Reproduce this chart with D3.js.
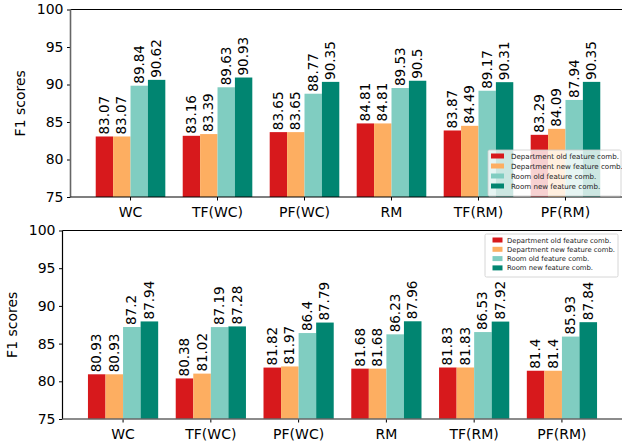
<!DOCTYPE html>
<html>
<head>
<meta charset="utf-8">
<style>
  body { margin: 0; background: #fff; }
  svg { display: block; font-family: "DejaVu Sans", sans-serif; }
</style>
</head>
<body>
<svg width="622" height="444"></svg>
<script src="https://d3js.org/d3.v7.min.js"></script>
<script>
var categories = ['WC', 'TF(WC)', 'PF(WC)', 'RM', 'TF(RM)', 'PF(RM)'];
var seriesNames = ['Department old feature comb.', 'Department new feature comb.', 'Room old feature comb.', 'Room new feature comb.'];
var colors = ['#d7191c', '#fdae61', '#80cdc1', '#018571'];
var yTicks = [75, 80, 85, 90, 95, 100];

// top panel
var topDeptOld = [83.07, 83.16, 83.65, 84.81, 83.87, 83.29];
var topDeptNew = [83.07, 83.39, 83.65, 84.81, 84.49, 84.09];
var topRoomOld = [89.84, 89.63, 88.77, 89.53, 89.17, 87.94];
var topRoomNew = [90.62, 90.93, 90.35, 90.5, 90.31, 90.35];

// bottom panel
var botDeptOld = [80.93, 80.38, 81.82, 81.68, 81.83, 81.4];
var botDeptNew = [80.93, 81.02, 81.97, 81.68, 81.83, 81.4];
var botRoomOld = [87.2, 87.19, 86.4, 86.23, 86.53, 85.93];
var botRoomNew = [87.94, 87.28, 87.79, 87.96, 87.92, 87.84];

var svg = d3.select('svg');

function panel(cfg) {
  var series = [cfg.a, cfg.b, cfg.c, cfg.d];
  var x0 = d3.scaleBand().domain(categories).range([cfg.left, cfg.right]).paddingInner(0).paddingOuter(0.19);
  var step = x0.step();
  var x1 = d3.scaleBand().domain(d3.range(4)).range([0, step * 0.8]);
  var y = d3.scaleLinear().domain([75, 100]).range([cfg.bottom, cfg.top]);
  var g = svg.append('g');

  var rows = categories.map(function (c, i) {
    return { cat: c, vals: series.map(function (s) { return s[i]; }) };
  });

  var grp = g.selectAll('g.cat').data(rows).enter().append('g')
    .attr('transform', function (d) { return 'translate(' + (x0(d.cat) + step * 0.1) + ',0)'; });

  grp.selectAll('rect').data(function (d) { return d.vals; }).enter().append('rect')
    .attr('x', function (d, i) { return x1(i); })
    .attr('y', function (d) { return y(d); })
    .attr('width', x1.bandwidth())
    .attr('height', function (d) { return y(75) - y(d); })
    .attr('fill', function (d, i) { return colors[i]; });

  grp.selectAll('text').data(function (d) { return d.vals; }).enter().append('text')
    .attr('transform', function (d, i) {
      return 'translate(' + (x1(i) + x1.bandwidth() / 2 + 4.5) + ',' + (y(d) - 2) + ') rotate(-90)';
    })
    .attr('font-size', 13.5)
    .attr('fill', '#000')
    .text(function (d) { return d; });

  // axes
  var yAxis = d3.axisLeft(y).tickValues(yTicks).tickSize(3.5).tickPadding(3.5);
  var ya = g.append('g').attr('transform', 'translate(' + cfg.left + ',0)').call(yAxis);
  ya.select('.domain').remove();
  ya.selectAll('text').attr('font-size', 14).attr('font-family', 'DejaVu Sans').attr('fill', '#000');

  var xAxis = d3.axisBottom(x0).tickSize(3.5).tickPadding(3.5);
  var xa = g.append('g').attr('transform', 'translate(0,' + cfg.bottom + ')').call(xAxis);
  xa.select('.domain').remove();
  xa.selectAll('text').attr('font-size', 14).attr('font-family', 'DejaVu Sans').attr('fill', '#000').attr('dy', '0.9em');

  // spines
  g.append('line').attr('x1', cfg.left).attr('x2', cfg.right).attr('y1', cfg.top).attr('y2', cfg.top)
    .attr('stroke', '#000').attr('stroke-width', 1.2);
  g.append('line').attr('x1', cfg.left).attr('x2', cfg.left).attr('y1', cfg.top).attr('y2', cfg.bottom)
    .attr('stroke', cfg.leftColor).attr('stroke-width', cfg.leftWidth);
  g.append('line').attr('x1', cfg.left).attr('x2', cfg.right).attr('y1', cfg.bottom).attr('y2', cfg.bottom)
    .attr('stroke', cfg.bottomColor).attr('stroke-width', cfg.bottomWidth);

  g.append('text')
    .attr('transform', 'translate(' + cfg.labelX + ',' + ((cfg.top + cfg.bottom) / 2) + ') rotate(-90)')
    .attr('text-anchor', 'middle')
    .attr('font-size', 14)
    .text('F1 scores');

  // legend
  var lg = g.append('g').attr('transform', 'translate(' + cfg.legX + ',' + cfg.legY + ')');
  lg.append('rect').attr('x', 0).attr('y', 0).attr('width', cfg.legW).attr('height', cfg.legH)
    .attr('rx', 1.5).attr('fill', 'rgba(255,255,255,0.8)').attr('stroke', '#ccc').attr('stroke-width', 0.8);
  seriesNames.forEach(function (n, i) {
    var yy = cfg.legRow0 + i * cfg.legGap;
    lg.append('rect').attr('x', cfg.swX).attr('y', yy - 2.5).attr('width', cfg.swW).attr('height', 5).attr('fill', colors[i]);
    lg.append('text').attr('x', cfg.txtX).attr('y', yy + 2.5).attr('font-size', cfg.legFont).attr('fill', '#222').text(n);
  });
}

panel({
  a: topDeptOld, b: topDeptNew, c: topRoomOld, d: topRoomNew,
  left: 70.5, right: 625.5, top: 9.5, bottom: 197,
  leftColor: '#666', leftWidth: 1.6, bottomColor: '#000', bottomWidth: 1.2,
  labelX: 25,
  legX: 488, legY: 150, legW: 133, legH: 46, legRow0: 6, legGap: 10,
  swX: 3, swW: 13, txtX: 23, legFont: 7.1
});

panel({
  a: botDeptOld, b: botDeptNew, c: botRoomOld, d: botRoomNew,
  left: 62.5, right: 622.5, top: 230.5, bottom: 419,
  leftColor: '#000', leftWidth: 1.2, bottomColor: '#666', bottomWidth: 1.6,
  labelX: 17,
  legX: 485, legY: 234, legW: 133, legH: 43, legRow0: 6, legGap: 9.3,
  swX: 7.5, swW: 10, txtX: 22, legFont: 6.85
});
</script>
</body>
</html>
